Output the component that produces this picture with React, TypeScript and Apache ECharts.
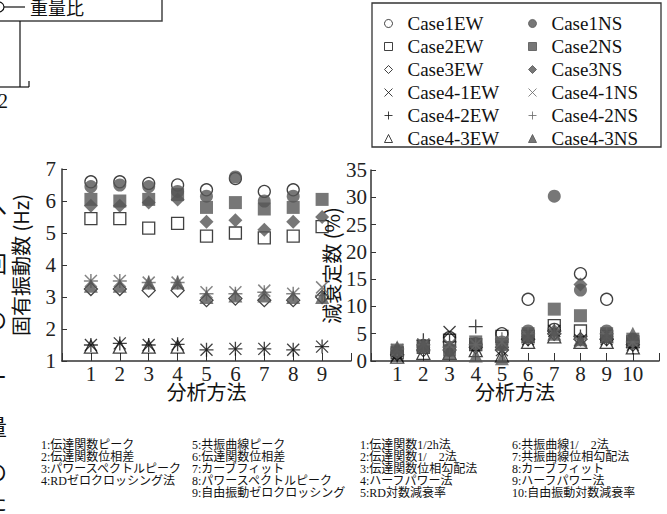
import React, { useEffect, useRef } from "react";
import * as echarts from "echarts";

// ---- data ----
const freqMethods = [1, 2, 3, 4, 5, 6, 7, 8, 9];
const dampMethods = [1, 2, 3, 4, 5, 6, 7, 8, 9, 10];

const caseNamesEW = ["Case1EW", "Case2EW", "Case3EW", "Case4-1EW", "Case4-2EW", "Case4-3EW"];
const caseNamesNS = ["Case1NS", "Case2NS", "Case3NS", "Case4-1NS", "Case4-2NS", "Case4-3NS"];

// natural frequency (Hz), methods 1..9
const freqCase1EW = [6.6, 6.6, 6.55, 6.5, 6.35, 6.7, 6.3, 6.35, null];
const freqCase2EW = [5.45, 5.45, 5.15, 5.3, 4.9, 5.0, 4.85, 4.9, 5.2];
const freqCase3EW = [3.25, 3.25, 3.2, 3.2, 2.9, 2.95, 2.9, 2.9, 3.0];
const freqCase41EW = [1.5, 1.55, 1.5, 1.52, 1.35, 1.38, 1.38, 1.35, 1.45];
const freqCase42EW = [1.5, 1.55, 1.5, 1.52, 1.35, 1.38, 1.38, 1.35, 1.45];
const freqCase43EW = [1.45, 1.45, 1.45, 1.45, null, null, null, null, null];
const freqCase1NS = [6.45, 6.5, 6.45, 6.3, 6.15, 6.75, 6.0, 6.15, null];
const freqCase2NS = [6.05, 6.0, 6.05, 6.2, 5.8, 5.95, 5.75, 5.8, 6.05];
const freqCase3NS = [5.85, 5.85, 5.95, 6.05, 5.35, 5.4, 5.1, 5.35, 5.5];
const freqCase41NS = [3.5, 3.5, 3.45, 3.45, 3.15, 3.15, 3.2, 3.1, 3.3];
const freqCase42NS = [3.5, 3.5, 3.45, 3.45, 3.1, 3.1, 3.15, 3.1, 3.05];
const freqCase43NS = [3.35, 3.35, 3.45, 3.45, 3.0, 3.05, 3.05, 3.0, 3.0];

// damping ratio (%), methods 1..10
const dampCase1EW = [1.5, 2.8, 4.3, 3.0, 5.0, 11.3, 5.8, 16.0, 11.3, 3.5];
const dampCase2EW = [1.5, 2.5, 3.8, 3.0, 4.5, 4.5, 6.5, 5.5, 4.5, 3.5];
const dampCase3EW = [1.2, 2.0, 2.0, 2.5, 2.0, 4.0, 5.0, 4.0, 4.0, 3.0];
const dampCase41EW = [1.0, 3.0, 5.3, 3.0, 2.0, 4.0, 5.5, 3.8, 4.0, 3.0];
const dampCase42EW = [1.0, 3.8, 3.5, 6.3, 2.5, 4.0, 5.5, 4.5, 4.0, 2.5];
const dampCase43EW = [0.8, 1.5, 1.5, 2.0, 1.0, 3.5, 4.5, 3.5, 3.5, 2.5];
const dampCase1NS = [1.8, 2.8, 2.0, 3.2, 3.5, 5.5, 30.2, 13.0, 5.5, 4.0];
const dampCase2NS = [2.0, 2.5, 2.0, 3.5, 3.0, 5.0, 9.5, 8.3, 5.0, 4.0];
const dampCase3NS = [1.5, 2.5, 2.5, 3.0, 2.5, 4.5, 5.5, 14.0, 4.5, 3.5];
const dampCase41NS = [2.0, 3.0, 3.0, 3.0, 3.5, 4.5, 5.0, 3.5, 4.5, 3.5];
const dampCase42NS = [2.2, 3.0, 2.5, 3.0, 4.0, 5.0, 5.0, 4.0, 5.0, 3.5];
const dampCase43NS = [2.5, 3.0, 1.5, 1.0, 0.5, 4.5, 5.0, 4.0, 4.5, 5.0];

const freqTicksLabelled = [1, 2, 3, 4, 5, 6, 7, 8, 9];
const dampTicksLabelled = [1, 2, 3, 4, 5, 6, 7, 8, 9, 10];

const notesFreqA = ["1:伝達関数ピーク", "2:伝達関数位相差", "3:パワースペクトルピーク", "4:RDゼロクロッシング法"];
const notesFreqB = ["5:共振曲線ピーク", "6:伝達関数位相差", "7:カーブフィット", "8:パワースペクトルピーク", "9:自由振動ゼロクロッシング"];
const notesDampA = ["1:伝達関数1/2h法", "2:伝達関数1/　2法", "3:伝達関数位相勾配法", "4:ハーフパワー法", "5:RD対数減衰率"];
const notesDampB = ["6:共振曲線1/　2法", "7:共振曲線位相勾配法", "8:カーブフィット", "9:ハーフパワー法", "10:自由振動対数減衰率"];

// ---- styles ----
const GRAY = "#555";
const X_PATH = "path://M0,0L10,10M10,0L0,10";
const PLUS_PATH = "path://M5,0L5,10M0,5L10,5";
const OPEN = "rgba(255,255,255,0)";

const caseStyles: Record<string, any> = {
  Case1EW: { symbol: "circle", size: 12, itemStyle: { color: OPEN, borderColor: "#111", borderWidth: 1.3 } },
  Case2EW: { symbol: "rect", size: 12, itemStyle: { color: OPEN, borderColor: "#111", borderWidth: 1.3 } },
  Case3EW: { symbol: "diamond", size: 13, itemStyle: { color: OPEN, borderColor: "#111", borderWidth: 1.3 } },
  "Case4-1EW": { symbol: X_PATH, size: 12, itemStyle: { color: OPEN, borderColor: "#111", borderWidth: 1.3 } },
  "Case4-2EW": { symbol: PLUS_PATH, size: 14, itemStyle: { color: OPEN, borderColor: "#111", borderWidth: 1.3 } },
  "Case4-3EW": { symbol: "triangle", size: 13, itemStyle: { color: OPEN, borderColor: "#111", borderWidth: 1.3 } },
  Case1NS: { symbol: "circle", size: 13, itemStyle: { color: GRAY, borderColor: GRAY, borderWidth: 0 } },
  Case2NS: { symbol: "rect", size: 13, itemStyle: { color: GRAY, borderColor: GRAY, borderWidth: 0 } },
  Case3NS: { symbol: "diamond", size: 14, itemStyle: { color: GRAY, borderColor: GRAY, borderWidth: 0 } },
  "Case4-1NS": { symbol: X_PATH, size: 12, itemStyle: { color: OPEN, borderColor: "#666", borderWidth: 1.5 } },
  "Case4-2NS": { symbol: PLUS_PATH, size: 14, itemStyle: { color: OPEN, borderColor: "#666", borderWidth: 1.5 } },
  "Case4-3NS": { symbol: "triangle", size: 14, itemStyle: { color: GRAY, borderColor: GRAY, borderWidth: 0 } },
};

const freqData: Record<string, (number | null)[]> = {
  Case1EW: freqCase1EW, Case2EW: freqCase2EW, Case3EW: freqCase3EW,
  "Case4-1EW": freqCase41EW, "Case4-2EW": freqCase42EW, "Case4-3EW": freqCase43EW,
  Case1NS: freqCase1NS, Case2NS: freqCase2NS, Case3NS: freqCase3NS,
  "Case4-1NS": freqCase41NS, "Case4-2NS": freqCase42NS, "Case4-3NS": freqCase43NS,
};
const dampData: Record<string, (number | null)[]> = {
  Case1EW: dampCase1EW, Case2EW: dampCase2EW, Case3EW: dampCase3EW,
  "Case4-1EW": dampCase41EW, "Case4-2EW": dampCase42EW, "Case4-3EW": dampCase43EW,
  Case1NS: dampCase1NS, Case2NS: dampCase2NS, Case3NS: dampCase3NS,
  "Case4-1NS": dampCase41NS, "Case4-2NS": dampCase42NS, "Case4-3NS": dampCase43NS,
};

const SERIF = "Liberation Serif";
const JP = "Noto Sans CJK JP";
const NOTE_FONT = "Liberation Serif, Noto Sans CJK JP";

function pairs(xs: number[], ys: (number | null)[]) {
  const out: [number, number][] = [];
  xs.forEach((x, i) => {
    const y = ys[i];
    if (y !== null && y !== undefined) out.push([x, y]);
  });
  return out;
}

function buildOption() {
  const allNames = [...caseNamesEW, ...caseNamesNS];
  const series: any[] = [];
  allNames.forEach((name) => {
    const st = caseStyles[name];
    series.push({
      type: "scatter", name, xAxisIndex: 0, yAxisIndex: 0,
      symbol: st.symbol, symbolSize: st.size, itemStyle: st.itemStyle, symbolKeepAspect: true,
      data: pairs(freqMethods, freqData[name]), emphasis: { disabled: true },
    });
    series.push({
      type: "scatter", name, xAxisIndex: 1, yAxisIndex: 1,
      symbol: st.symbol, symbolSize: st.size, itemStyle: st.itemStyle, symbolKeepAspect: true,
      data: pairs(dampMethods, dampData[name]), emphasis: { disabled: true },
    });
  });

  const axisLine = { show: true, lineStyle: { color: "#333", width: 1.5 } };
  const tickLabel = { fontFamily: SERIF, fontSize: 21, color: "#222" };
  const legendCommon = {
    orient: "vertical", top: 9, itemWidth: 8, itemHeight: 8, itemGap: 4,
    selectedMode: false,
    textStyle: { fontFamily: SERIF, fontSize: 19, color: "#111", padding: [0, 0, 0, 10] },
    itemStyle: { borderWidth: 1 },
  };

  const noteText = (lines: string[], x: number) => ({
    type: "text", x, y: 439,
    style: { text: lines.join("\n"), fontSize: 12, fontFamily: NOTE_FONT, fill: "#111", lineHeight: 12 },
  });

  const edgeChars = [["へ", 205], ["回", 262], ["の", 318], ["ー", 375], ["量", 425], ["の", 470], ["た", 500]];

  const xName = {
    name: "分析方法", nameLocation: "middle", nameGap: 20, nameMoveOverlap: false,
    nameTextStyle: { fontFamily: JP, fontSize: 20, color: "#111" },
  };

  return {
    animation: false,
    backgroundColor: "#fff",
    grid: [
      { left: 62, top: 169, width: 289, height: 192 },
      { left: 371, top: 170, width: 288, height: 191 },
    ],
    xAxis: [
      {
        gridIndex: 0, type: "value", min: 0, max: 10, interval: 1,
        axisLine, splitLine: { show: false },
        axisTick: { inside: true, length: 8, lineStyle: { color: "#333" } },
        axisLabel: { ...tickLabel, margin: 2, formatter: (v: number) => (freqTicksLabelled.includes(v) ? String(v) : "") },
        ...xName,
      },
      {
        gridIndex: 1, type: "value", min: 0, max: 11, interval: 1,
        axisLine, splitLine: { show: false },
        axisTick: { inside: true, length: 8, lineStyle: { color: "#333" } },
        axisLabel: { ...tickLabel, margin: 2, formatter: (v: number) => (dampTicksLabelled.includes(v) ? String(v) : "") },
        ...xName,
      },
    ],
    yAxis: [
      {
        gridIndex: 0, type: "value", min: 1, max: 7, interval: 1,
        axisLine, splitLine: { show: false },
        axisTick: { show: true, inside: true, length: 5, lineStyle: { color: "#333" } },
        axisLabel: { ...tickLabel, margin: 6 },
        name: "固有振動数 (Hz)", nameLocation: "middle", nameGap: 32, nameRotate: 90, nameMoveOverlap: false,
        nameTextStyle: { fontFamily: JP, fontSize: 20, color: "#111" },
      },
      {
        gridIndex: 1, type: "value", min: 0, max: 35, interval: 5,
        axisLine, splitLine: { show: false },
        axisTick: { show: true, inside: true, length: 5, lineStyle: { color: "#333" } },
        axisLabel: { ...tickLabel, margin: 4 },
        name: "減衰定数 (%)", nameLocation: "middle", nameGap: 30, nameRotate: 90, nameMoveOverlap: false,
        nameTextStyle: { fontFamily: JP, fontSize: 20, color: "#111" },
      },
    ],
    legend: [
      { ...legendCommon, left: 379, data: caseNamesEW },
      { ...legendCommon, left: 523, data: caseNamesNS },
    ],
    graphic: [
      // legend frame
      { type: "rect", shape: { x: 372, y: 3, width: 289, height: 144 }, style: { fill: "none", stroke: "#333", lineWidth: 1.3 }, z: -1 },
      // top-left fragment of another figure
      { type: "rect", shape: { x: -10, y: -20, width: 172, height: 41 }, style: { fill: "none", stroke: "#444", lineWidth: 1.5 } },
      { type: "circle", shape: { cx: -1, cy: 7, r: 5 }, style: { fill: "none", stroke: "#111", lineWidth: 1.2 } },
      { type: "line", shape: { x1: 4, y1: 7, x2: 25, y2: 7 }, style: { stroke: "#111", lineWidth: 1.2 } },
      { type: "text", x: 30, y: 7, style: { text: "重量比", fontSize: 18, fontFamily: JP, fill: "#111", verticalAlign: "middle" } },
      { type: "line", shape: { x1: 20, y1: 21, x2: 20, y2: 87 }, style: { stroke: "#111", lineWidth: 1.2 } },
      { type: "line", shape: { x1: 0, y1: 87, x2: 29, y2: 87 }, style: { stroke: "#111", lineWidth: 1.2 } },
      { type: "line", shape: { x1: 29, y1: 81, x2: 29, y2: 87 }, style: { stroke: "#111", lineWidth: 1.2 } },
      { type: "text", x: -2, y: 101, style: { text: "2", fontSize: 20, fontFamily: SERIF, fill: "#111", verticalAlign: "middle" } },
      // clipped vertical text column at the left edge
      ...edgeChars.map(([c, y]) => ({
        type: "text", x: -4, y: y as number,
        style: { text: c as string, fontSize: 22, fontFamily: JP, fill: "#111", align: "center", verticalAlign: "middle" },
      })),
      // method notes
      noteText(notesFreqA, 41),
      noteText(notesFreqB, 192),
      noteText(notesDampA, 360),
      noteText(notesDampB, 512),
    ],
    series,
  };
}

export default function App() {
  const ref = useRef<HTMLDivElement>(null);
  useEffect(() => {
    if (!ref.current) return;
    const chart = echarts.init(ref.current, undefined, { renderer: "svg" });
    chart.setOption(buildOption() as any);
    return () => chart.dispose();
  }, []);
  return (
    <div
      ref={ref}
      style={{ position: "absolute", left: 0, top: 0, width: 667, height: 514, background: "#fff" }}
    />
  );
}
